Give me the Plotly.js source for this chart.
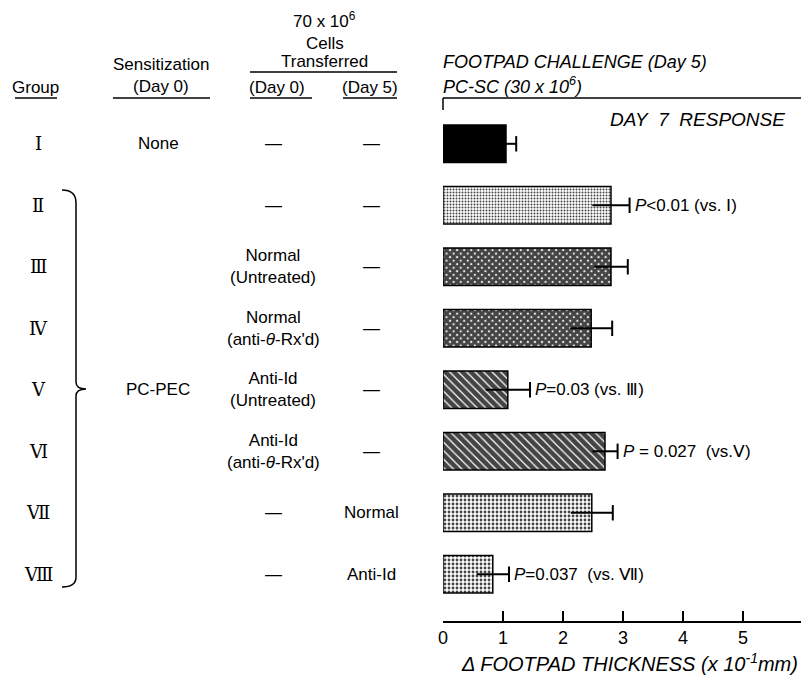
<!DOCTYPE html>
<html><head><meta charset="utf-8">
<script src="https://cdn.plot.ly/plotly-3.0.1.min.js"></script>
<style>html,body{margin:0;padding:0;background:#fff}</style>
</head><body><div id="chart" style="width:801px;height:675px"></div>
<script>
// ---- data ----
const groups = ['I','II','III','IV','V','VI','VII','VIII'];
const groupLabels = ['Ⅰ','Ⅱ','Ⅲ','Ⅳ','Ⅴ','Ⅵ','Ⅶ','Ⅷ'];
const response = [1.05, 2.80, 2.80, 2.47, 1.08, 2.70, 2.48, 0.83];
const sem = [0.17, 0.31, 0.28, 0.35, 0.37, 0.21, 0.35, 0.27];
const sensitization = ['None', '', '', '', 'PC-PEC', '', '', ''];
const day0 = ['—', '—', 'Normal<br>(Untreated)', "Normal<br>(anti-<i>θ</i>-Rx'd)", 'Anti-Id<br>(Untreated)', "Anti-Id<br>(anti-<i>θ</i>-Rx'd)", '—', '—'];
const day5 = ['—', '—', '—', '—', '—', '—', 'Normal', 'Anti-Id'];
const pLabels = ['', '<i>P</i>&lt;0.01 (vs. Ⅰ)', '', '', '<i>P</i>=0.03 (vs. Ⅲ)', '<i>P</i> = 0.027\u00A0 (vs.Ⅴ)', '', '<i>P</i>=0.037\u00A0 (vs. Ⅶ)'];
const xTicks = [0, 1, 2, 3, 4, 5];

// ---- styles ----
const patShape = ['', '.', 'x', 'x', '\\', '\\', '.', '.'];
const patSize = [8, 3, 5, 5, 6, 6, 4, 4];
const patSolid = [0.5, 0.35, 0.86, 0.86, 0.8, 0.8, 0.4, 0.4];
const barColors = ['#000', '#fff', '#fff', '#fff', '#fff', '#fff', '#fff', '#fff'];

const FONT = 'Liberation Sans, Arial, sans-serif';
const ML = 443, MR = 0, MT = 98, MB = 54, W = 801, H = 675;
const PW = W - ML - MR, PH = H - MT - MB;
const px = v => (v - ML) / PW;
const py = v => (H - MB - v) / PH;

const bars = {
  type: 'bar', orientation: 'h', x: response, y: groups, width: 0.61,
  marker: {color: barColors, line: {color: '#000', width: 1.5},
    pattern: {shape: patShape, size: patSize, solidity: patSolid, fgcolor: '#000', fgopacity: 1, fillmode: 'overlay'}},
  hoverinfo: 'x+y'
};
const errs = {
  type: 'scatter', mode: 'markers', x: response, y: groups,
  marker: {size: 1, color: 'rgba(0,0,0,0)'},
  error_x: {type: 'data', array: sem, visible: true, width: 0, thickness: 2, color: '#000'},
  hoverinfo: 'skip'
};
const caps = {
  type: 'scatter', mode: 'markers', x: response.map((v, i) => v + sem[i]), y: groups,
  marker: {symbol: 'line-ns-open', size: 11, line: {width: 2, color: '#000'}, color: '#000'},
  hoverinfo: 'skip'
};

const ann = [];
const A = (o) => ann.push(Object.assign({showarrow: false, font: {family: FONT, size: 17, color: '#000'}}, o));

// plot headings
A({text: '<i>FOOTPAD CHALLENGE (Day 5)</i>', xref: 'paper', yref: 'paper', x: px(441), y: py(62), xanchor: 'left', yanchor: 'middle', font: {family: FONT, size: 18}});
A({text: '<i>PC-SC (30 x 10<sup>6</sup>)</i>', xref: 'paper', yref: 'paper', x: px(441), y: py(86), xanchor: 'left', yanchor: 'middle', font: {family: FONT, size: 18}});
A({text: '<i>DAY\u00A0 7\u00A0 RESPONSE</i>', xref: 'paper', yref: 'paper', x: px(608), y: py(120), xanchor: 'left', yanchor: 'middle', font: {family: FONT, size: 19}});
A({text: '<i>Δ FOOTPAD THICKNESS (x 10<sup>-1</sup>mm)</i>', xref: 'paper', yref: 'paper', x: px(800), y: py(662), xanchor: 'right', yanchor: 'middle', font: {family: FONT, size: 20}});

// table headings
A({text: 'Group', xref: 'paper', yref: 'paper', x: px(36), y: py(88), xanchor: 'center', yanchor: 'middle'});
A({text: 'Sensitization', xref: 'paper', yref: 'paper', x: px(161), y: py(65), xanchor: 'center', yanchor: 'middle'});
A({text: '(Day 0)', xref: 'paper', yref: 'paper', x: px(161), y: py(87), xanchor: 'center', yanchor: 'middle'});
A({text: '70 x 10<sup>6</sup>', xref: 'paper', yref: 'paper', x: px(324), y: py(20), xanchor: 'center', yanchor: 'middle'});
A({text: 'Cells', xref: 'paper', yref: 'paper', x: px(325), y: py(43), xanchor: 'center', yanchor: 'middle'});
A({text: 'Transferred', xref: 'paper', yref: 'paper', x: px(324), y: py(62), xanchor: 'center', yanchor: 'middle'});
A({text: '(Day 0)', xref: 'paper', yref: 'paper', x: px(277), y: py(88), xanchor: 'center', yanchor: 'middle'});
A({text: '(Day 5)', xref: 'paper', yref: 'paper', x: px(370), y: py(88), xanchor: 'center', yanchor: 'middle'});

// table rows
groups.forEach((g, i) => {
  A({text: groupLabels[i], xref: 'paper', yref: 'y', x: px(38), y: g, xanchor: 'center', yanchor: 'middle', font: {family: 'DejaVu Serif, serif', size: 18}});
  if (sensitization[i]) A({text: sensitization[i], xref: 'paper', yref: 'y', x: px(158), y: g, xanchor: 'center', yanchor: 'middle'});
  A({text: day0[i], xref: 'paper', yref: 'y', x: px(273), y: g, xanchor: 'center', yanchor: 'middle'});
  A({text: day5[i], xref: 'paper', yref: 'y', x: px(371), y: g, xanchor: 'center', yanchor: 'middle'});
  if (pLabels[i]) A({text: pLabels[i], xref: 'x', yref: 'y', x: response[i] + sem[i], y: g, xanchor: 'left', yanchor: 'middle', xshift: 3, font: {family: FONT, size: 17}});
});

// decorative lines
const L = (x0, y0, x1, y1) => ({type: 'line', xref: 'paper', yref: 'paper', x0: px(x0), y0: py(y0), x1: px(x1), y1: py(y1), line: {color: '#000', width: 1.5}});
const shapes = [
  L(15, 98, 57, 98), L(113, 98, 210, 98), L(250, 72, 397, 72), L(250, 98, 312, 98), L(343, 98, 397, 98),
  L(443, 98, 801, 98), L(443, 98, 443, 110)
];
const P = (a, b) => px(a) + ',' + py(b);
shapes.push({type: 'path', xref: 'paper', yref: 'paper', line: {color: '#000', width: 1.5},
  path: 'M' + P(62, 190) + ' Q' + P(76, 190) + ' ' + P(76, 203) + ' L' + P(76, 382) + ' Q' + P(76, 389) + ' ' + P(86, 389) +
        ' Q' + P(76, 389) + ' ' + P(76, 396) + ' L' + P(76, 577) + ' Q' + P(76, 587) + ' ' + P(62, 587)});

const layout = {
  width: W, height: H, margin: {l: ML, r: MR, t: MT, b: MB, pad: 0},
  paper_bgcolor: '#fff', plot_bgcolor: '#fff', showlegend: false,
  font: {family: FONT, color: '#000'},
  xaxis: {range: [0, 5.967], showline: true, linecolor: '#000', linewidth: 1.5, ticks: 'inside', ticklen: 10, tickwidth: 1.5, tickcolor: '#000',
    tickvals: xTicks, ticktext: xTicks.map(String), tickfont: {family: FONT, size: 18}, showgrid: false, zeroline: false, fixedrange: true},
  yaxis: {type: 'category', categoryarray: groups, range: [7.76, -0.745], visible: false, fixedrange: true},
  annotations: ann, shapes: shapes
};
Plotly.newPlot('chart', [bars, errs, caps], layout, {displayModeBar: false, staticPlot: true});
</script></body></html>
